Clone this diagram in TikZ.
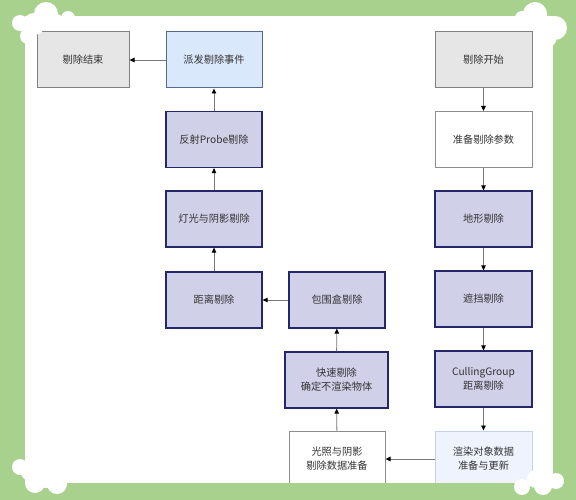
\documentclass[tikz,border=0pt]{standalone}
\usepackage{fontspec}
\setmainfont{Noto Sans CJK SC}
\usetikzlibrary{arrows.meta}
\definecolor{bggreen}{HTML}{A9D18E}
\definecolor{lavfill}{HTML}{D0D0E9}
\definecolor{lavline}{HTML}{24286A}
\definecolor{bluefill}{HTML}{DAE8FC}
\definecolor{blueline}{HTML}{55698F}
\definecolor{palefill}{HTML}{EEF3FD}
\definecolor{paleline}{HTML}{C3D1EA}
\definecolor{grayfill}{HTML}{E6E6E6}
\definecolor{grayline}{HTML}{808080}
\definecolor{arrline}{HTML}{777777}
\tikzset{
  box/.style={draw, line width=1pt, minimum width=96pt, minimum height=56pt, inner sep=0pt,
    align=center, font=\fontsize{10.2pt}{14pt}\selectfont, text=black!80},
  lav/.style={box, fill=lavfill, draw=lavline, line width=1.2pt},
  bluebox/.style={box, fill=bluefill, draw=blueline},
  palebox/.style={box, fill=palefill, draw=paleline},
  graybox/.style={box, fill=grayfill, draw=grayline},
  whitebox/.style={box, fill=white, draw=grayline!90},
  arr/.style={draw=arrline, line width=0.9pt, -{Triangle[length=5pt,width=4.5pt,fill=black,color=black]}},
  cloud/.style={fill=white, draw=none}
}
\begin{document}
\begin{tikzpicture}[x=1pt,y=-1pt]
\useasboundingbox (0,0) rectangle (576,500);
\fill[bggreen] (0,0) rectangle (576,500);
\fill[white] (25,16) rectangle (553,483);
% nodes
\node[graybox, minimum width=92pt] (end) at (83,60) {剔除结束};
\node[bluebox] (dispatch) at (214,60) {派发剔除事件};
\node[lav] (probe) at (214,139.5) {反射Probe剔除};
\node[lav] (light) at (214,219) {灯光与阴影剔除};
\node[lav] (dist) at (214,300) {距离剔除};
\node[lav] (bbox) at (337,300) {包围盒剔除};
\node[lav, minimum width=103pt] (fast) at (336.5,380) {快速剔除\\确定不渲染物体};
\node[whitebox] (lightprep) at (337,459) {光照与阴影\\剔除数据准备};
\node[graybox, minimum width=97pt] (start) at (483.5,60) {剔除开始};
\node[whitebox, minimum width=97pt] (params) at (483.5,139.5) {准备剔除参数};
\node[lav, minimum width=97pt] (terrain) at (483.5,219) {地形剔除};
\node[lav, minimum width=97pt] (occl) at (483.5,299) {遮挡剔除};
\node[lav, minimum width=97pt] (cg) at (483.5,379) {CullingGroup\\距离剔除};
\node[palebox, minimum width=97pt] (render) at (483.5,459) {渲染对象数据\\准备与更新};
% arrows
\draw[arr] (start) -- (params);
\draw[arr] (params) -- (terrain);
\draw[arr] (terrain) -- (occl);
\draw[arr] (occl) -- (cg);
\draw[arr] (cg) -- (render);
\draw[arr] (render) -- (lightprep);
\draw[arr] (lightprep) -- (fast);
\draw[arr] (fast) -- (bbox);
\draw[arr] (bbox) -- (dist);
\draw[arr] (dist) -- (light);
\draw[arr] (light) -- (probe);
\draw[arr] (probe) -- (dispatch);
\draw[arr] (dispatch) -- (end);
% bottom green strip over boxes
\fill[bggreen] (0,483) rectangle (576,500);
% clouds
\fill[cloud] (20,23) circle (8) (46,14) circle (12) (68,18) circle (7) (28,36) circle (8) (34,24) circle (11) (56,22) circle (8);
\fill[cloud] (535,14) circle (12) (555,28) circle (12) (550,40) circle (6) (522,18) circle (7) (542,24) circle (10);
\fill[cloud] (556,481) circle (8) (543,486) circle (9) (522,487) circle (8) (536,479) circle (9);
\fill[cloud] (20,467) circle (8) (35,483) circle (10) (57,484) circle (10) (30,472) circle (9) (46,480) circle (8);
\end{tikzpicture}
\end{document}
